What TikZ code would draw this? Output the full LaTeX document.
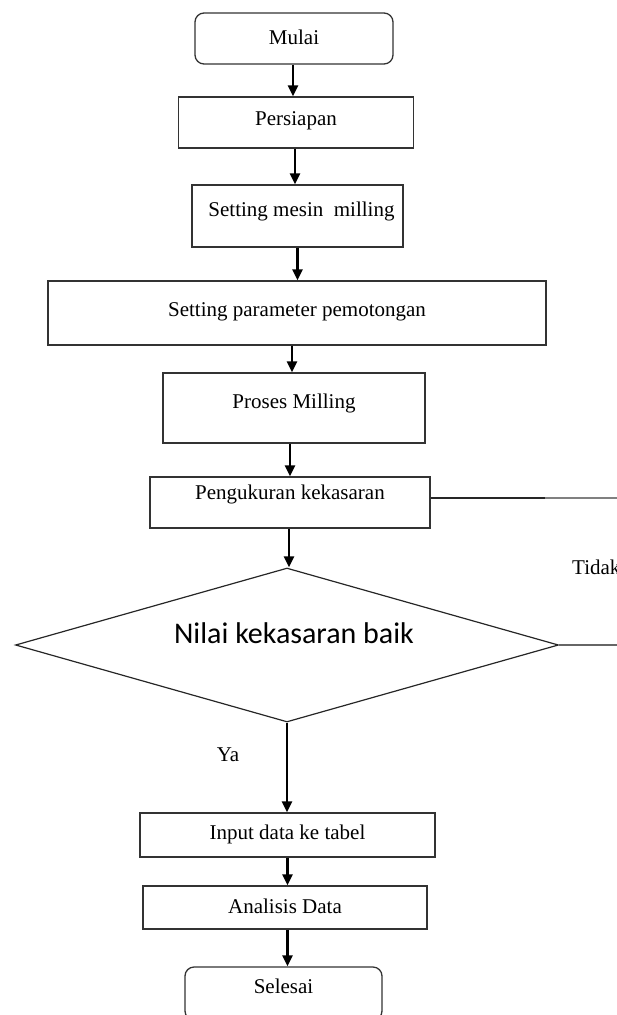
\documentclass[tikz,border=0pt]{standalone}
\usepackage{fontspec}
\setmainfont{Liberation Serif}
\newfontfamily\calib{Carlito}
\usetikzlibrary{shapes.geometric,arrows.meta}
\begin{document}
\begin{tikzpicture}[x=1pt,y=-1pt,
  box/.style={draw=black!80, line width=1.3pt, rectangle, inner sep=0pt,
    font=\fontsize{21}{25}\selectfont, text height=15pt},
  term/.style={box, rounded corners=9pt},
  decision/.style={draw=black!85, line width=1.2pt, diamond, aspect=3.53, inner sep=0pt,
    font=\calib\fontsize{30}{36}\selectfont, text height=21pt, text depth=25pt},
  flow/.style={line width=2.5pt, -{Triangle[length=11pt,width=10pt]}},
  lbl/.style={font=\fontsize{21}{25}\selectfont, inner sep=0pt},
  plain/.style={line width=1.3pt, draw=black!85}
]
\useasboundingbox (0,0) rectangle (617,1015);
\clip (0,0) rectangle (617,1015);

\node[term, minimum width=198pt, minimum height=51pt, text depth=4pt] (mulai) at (294,38.5) {Mulai};
\node[box, minimum width=235pt, minimum height=51pt, text depth=10pt] (pers) at (296,122.5) {Persiapan};
\node[box, minimum width=211pt, minimum height=62pt, text depth=15pt] (mesin) at (297.5,216) {\hspace*{8pt}Setting mesin~ milling};
\node[box, minimum width=498pt, minimum height=64pt, text depth=9pt] (param) at (297,313) {Setting parameter pemotongan};
\node[box, minimum width=262pt, minimum height=70pt, text depth=15pt] (proses) at (294,408) {Proses Milling};
\node[box, minimum width=280pt, minimum height=51pt, text depth=22pt] (peng) at (290,502.5) {Pengukuran kekasaran};
\node[decision, minimum width=543pt, minimum height=154pt] (dia) at (287,645) {\hspace*{14pt}Nilai kekasaran baik};
\node[box, minimum width=295pt, minimum height=44pt, text depth=7pt] (input) at (287.5,835) {Input data ke tabel};
\node[box, minimum width=284pt, minimum height=43pt, text depth=4pt] (anal) at (285,907.5) {Analisis Data};
\node[term, minimum width=197pt, minimum height=53pt, text depth=16pt] (selesai) at (283.5,993.5) {Selesai};

\node[lbl] (ya) at (228,755) {Ya};
\node[lbl, anchor=west] (tidak) at (572,567) {Tidak};

\coordinate (r1a) at (545,498);
\coordinate (r1b) at (625,498);
\coordinate (r2) at (625,645);

\draw[flow] ([xshift=-1pt]mulai.south) -- ([xshift=-1pt]mulai.south |- pers.north);
\draw[flow] ([xshift=-1pt]pers.south) -- ([xshift=-1pt]pers.south |- mesin.north);
\draw[flow] (mesin.south) -- (mesin.south |- param.north);
\draw[flow] ([xshift=-5pt]param.south) -- ([xshift=-5pt]param.south |- proses.north);
\draw[flow] ([xshift=-4pt]proses.south) -- ([xshift=-4pt]proses.south |- peng.north);
\draw[flow] ([xshift=-1pt]peng.south) -- ([xshift=-1pt]peng.south |- dia.north);
\draw[flow] (dia.south) -- (dia.south |- input.north);
\draw[flow] (input.south) -- (input.south |- anal.north);
\draw[flow] (input.south |- anal.south) -- (input.south |- selesai.north);

\draw[plain] (peng.east |- r1a) -- (r1a);
\draw[plain, draw=black!50] (r1a) -- (r1b);
\draw[plain, draw=black!60] (dia.east) -- (r2);
\end{tikzpicture}
\end{document}
